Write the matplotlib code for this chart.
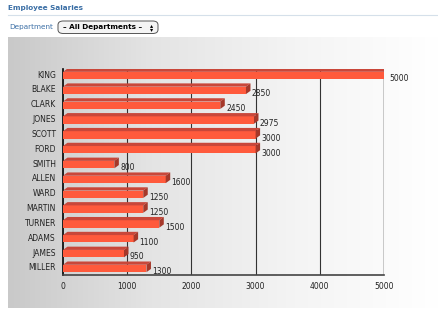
import numpy as np
import matplotlib
matplotlib.use("Agg")
import matplotlib.pyplot as plt
from matplotlib.patches import Polygon, FancyBboxPatch

# datos
empleados = ["KING", "BLAKE", "CLARK", "JONES", "SCOTT", "FORD", "SMITH",
             "ALLEN", "WARD", "MARTIN", "TURNER", "ADAMS", "JAMES", "MILLER"]
salarios = [5000, 2850, 2450, 2975, 3000, 3000, 800,
            1600, 1250, 1250, 1500, 1100, 950, 1300]
ticks_x = [0, 1000, 2000, 3000, 4000, 5000]

W, H = 439, 325
fig = plt.figure(figsize=(W / 100, H / 100), dpi=100)
fig.patch.set_facecolor("white")

def fx(px):
    return px / W

def fy(py):
    return 1 - py / H

# cabecera
azul = "#3a6ea5"
fig.text(fx(8), fy(8), "Employee Salaries", color=azul, fontsize=5.2,
         fontweight="bold", va="center", ha="left")
fig.add_artist(plt.Line2D([fx(8), 1], [fy(15), fy(15)], color="#d5e0ea", lw=0.8))
fig.text(fx(9), fy(27), "Department", color=azul, fontsize=5.2, va="center", ha="left")
caja = FancyBboxPatch((fx(58), fy(33.5)), fx(100), fy(0) - fy(12.5),
                      boxstyle="round,pad=0,rounding_size=0.012",
                      transform=fig.transFigure, facecolor="#f4f4f4",
                      edgecolor="#555555", lw=0.7)
fig.add_artist(caja)
fig.text(fx(63), fy(27.5), "– All Departments –", color="black", fontsize=5.2,
         fontweight="semibold", va="center", ha="left")
fig.text(fx(152), fy(25.5), "▴", color="black", fontsize=4.5, va="center", ha="center")
fig.text(fx(152), fy(29.5), "▾", color="black", fontsize=4.5, va="center", ha="center")

# fondo degradado
fondo = fig.add_axes([fx(8), fy(308), 1 - fx(8), fy(37) - fy(308)])
grad = np.linspace(0, 1, 256).reshape(1, -1)
fondo.imshow(grad, aspect="auto", cmap=matplotlib.colors.LinearSegmentedColormap.from_list(
    "g", ["#c9c9c9", "#e4e4e4", "#f4f4f4", "#ffffff"]), extent=[0, 1, 0, 1])
fondo.set_axis_off()

ax = fig.add_axes([fx(63), fy(275), fx(384) - fx(63), fy(69) - fy(275)])
ax.patch.set_alpha(0)

n = len(empleados)
y = np.arange(n)
dx = 70
frente = 0.5
prof = 0.22

for xv in ticks_x[1:-1]:
    ax.axvline(xv, color="#333333", lw=0.8, zorder=1)
ax.axvline(5000, color="black", lw=1.0, zorder=1)

for i, v in enumerate(salarios):
    y0 = y[i] - 0.15
    y1 = y0 + frente
    ax.add_patch(Polygon([(0, y0), (v, y0), (v, y1), (0, y1)], closed=True,
                         facecolor="#ff5a3c", edgecolor="none", zorder=3))
    ax.add_patch(Polygon([(0, y0), (v, y0), (v + dx, y0 - prof), (dx, y0 - prof)],
                         closed=True, facecolor="#c9473a", edgecolor="none", zorder=3))
    ax.add_patch(Polygon([(v, y0), (v + dx, y0 - prof), (v + dx, y1 - prof), (v, y1)],
                         closed=True, facecolor="#a5382a", edgecolor="none", zorder=3))
    ax.text(v + dx + 20, y[i] + 0.32, str(v), fontsize=5.5, color="#222222",
            va="center", ha="left", zorder=4)

ax.set_xlim(0, 5000)
ax.set_ylim(n - 1 + 0.54, -0.34)
ax.set_yticks(y)
ax.set_yticklabels(empleados, fontsize=5.5, color="#222222")
ax.set_xticks(ticks_x)
ax.set_xticklabels([str(t) for t in ticks_x], fontsize=5.5, color="#222222")
ax.tick_params(length=0, pad=5)
ax.spines["top"].set_visible(False)
ax.spines["right"].set_visible(False)
ax.spines["left"].set_color("black")
ax.spines["bottom"].set_color("#444444")
ax.spines["left"].set_linewidth(1.2)
ax.spines["bottom"].set_linewidth(1.2)

fig.savefig("out.png", dpi=100)
